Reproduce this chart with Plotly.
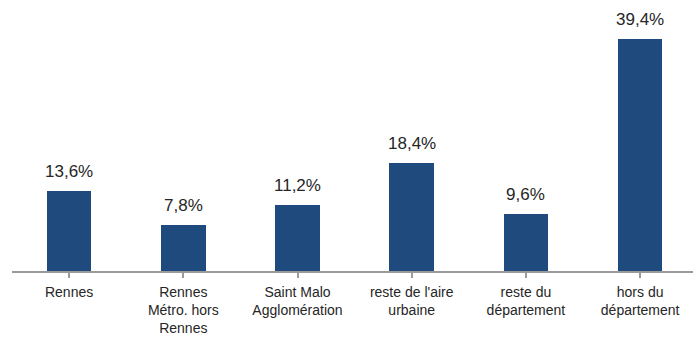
import plotly.graph_objects as go

categories = [
    "Rennes",
    "Rennes<br>Métro. hors<br>Rennes",
    "Saint Malo<br>Agglomération",
    "reste de l'aire<br>urbaine",
    "reste du<br>département",
    "hors du<br>département",
]
values = [13.6, 7.8, 11.2, 18.4, 9.6, 39.4]
value_labels = ["13,6%", "7,8%", "11,2%", "18,4%", "9,6%", "39,4%"]

BAR_COLOR = "#1F4A7E"
TEXT_COLOR = "#262626"
FONT = "Liberation Sans, Arial, sans-serif"

x_pos = list(range(len(categories)))

fig = go.Figure(
    go.Bar(
        x=x_pos,
        y=values,
        width=0.39,
        marker=dict(color=BAR_COLOR, line=dict(width=0)),
        hoverinfo="skip",
    )
)

# value labels above each bar
for xi, v, lab in zip(x_pos, values, value_labels):
    fig.add_annotation(
        x=xi, y=v, text=lab, showarrow=False,
        xanchor="center", yanchor="bottom", yshift=8,
        font=dict(family=FONT, size=17, color=TEXT_COLOR),
    )

fig.update_layout(
    width=693, height=337,
    margin=dict(l=12, r=0, t=0, b=66),
    paper_bgcolor="white", plot_bgcolor="white",
    showlegend=False,
    bargap=0,
)
fig.update_xaxes(
    tickmode="array", tickvals=x_pos, ticktext=categories,
    range=[-0.5, 5.463],
    automargin=False,
    showline=True, linecolor="#9a9a9a", linewidth=1.5,
    ticks="outside", tickson="boundaries", ticklen=5, tickcolor="#9a9a9a", tickwidth=1.5,
    ticklabelstandoff=2,
    tickfont=dict(family=FONT, size=14, color=TEXT_COLOR),
    showgrid=False, zeroline=False, fixedrange=True,
)
fig.update_yaxes(
    range=[0, 46.0], visible=False, showgrid=False, zeroline=False, fixedrange=True,
    automargin=False,
)

fig.write_html("out.html")
